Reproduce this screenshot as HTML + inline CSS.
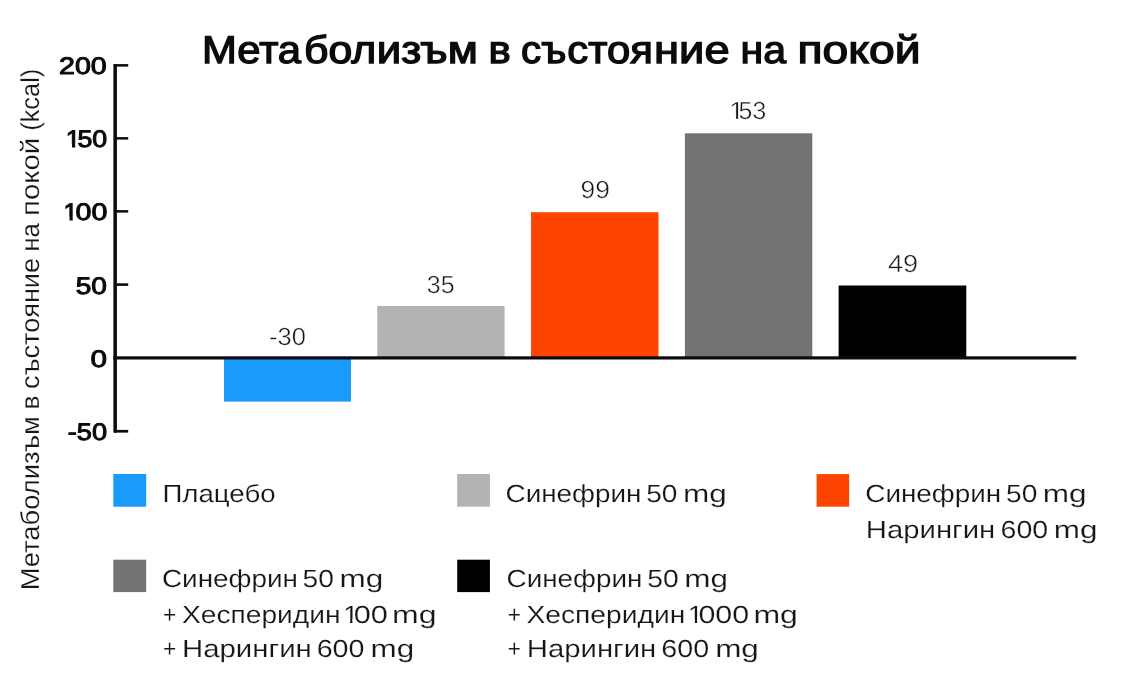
<!DOCTYPE html>
<html lang="bg">
<head>
<meta charset="utf-8">
<title>Метаболизъм в състояние на покой</title>
<style>
html,body{margin:0;padding:0;background:#fff;}
body{width:1124px;height:687px;overflow:hidden;}
svg{display:block;}
text{font-family:"Liberation Sans",sans-serif;text-rendering:geometricPrecision;}
.t{font-size:38.8px;fill:#0b0b0b;stroke:#0b0b0b;stroke-width:1.3px;}
.tk{font-size:23.9px;fill:#0b0b0b;stroke:#0b0b0b;stroke-width:1px;}
.tk1{font-size:23.9px;fill:#0b0b0b;stroke:#0b0b0b;stroke-width:1px;}
.lg1{font-size:24.7px;fill:#161616;stroke:#fff;stroke-width:.1px;}
.v{font-size:24.7px;fill:#161616;stroke:#fff;stroke-width:.45px;}
.lg{font-size:24.7px;fill:#161616;stroke:#fff;stroke-width:.18px;}
.yl{font-size:25.9px;fill:#161616;stroke:#fff;stroke-width:.18px;}
</style>
</head>
<body>
<svg width="1124" height="687" viewBox="0 0 1124 687">
<rect width="1124" height="687" fill="#fff"/>
<!-- bars -->
<rect x="224" y="358" width="127" height="43.6" fill="#1a9bfc"/>
<rect x="377.3" y="306" width="127.3" height="52" fill="#b3b3b3"/>
<rect x="531" y="212.2" width="127.5" height="146" fill="#fd4400"/>
<rect x="684.9" y="133.3" width="127.4" height="225" fill="#737373"/>
<rect x="838.6" y="285.5" width="127.7" height="73" fill="#000"/>
<!-- axes -->
<rect x="113.4" y="64.1" width="3.5" height="368.5" fill="#0b0b0b"/>
<rect x="113.4" y="356.3" width="962.9" height="3.2" fill="#0b0b0b"/>
<g fill="#0b0b0b">
<rect x="114" y="64.1" width="14.2" height="2.5"/>
<rect x="114" y="137.1" width="14.2" height="2.5"/>
<rect x="114" y="210.1" width="14.2" height="2.5"/>
<rect x="114" y="283.3" width="14.2" height="2.6"/>
<rect x="114" y="429.9" width="14.2" height="2.7"/>
</g>
<!-- legend swatches -->
<rect x="113.3" y="474" width="32.9" height="32.7" fill="#1a9bfc"/>
<rect x="457.2" y="474" width="32.7" height="32.7" fill="#b3b3b3"/>
<rect x="816.6" y="474.1" width="32.6" height="32.6" fill="#fd4400"/>
<rect x="113.3" y="559.7" width="32.9" height="32.4" fill="#737373"/>
<rect x="457.2" y="559.7" width="32.7" height="32.4" fill="#000"/>
<text class="t" x="201.94" y="63.30" textLength="99.15" lengthAdjust="spacingAndGlyphs">Мета</text><text class="t" x="304.04" y="63.30" textLength="72.31" lengthAdjust="spacingAndGlyphs">бол</text><text class="t" x="376.76" y="63.30" textLength="101.11" lengthAdjust="spacingAndGlyphs">изъм</text>
<text class="t" x="488.63" y="63.30" textLength="22.34" lengthAdjust="spacingAndGlyphs">в</text>
<text class="t" x="521.01" y="63.30" textLength="45.37" lengthAdjust="spacingAndGlyphs">съ</text><text class="t" x="567.37" y="63.30" textLength="85.53" lengthAdjust="spacingAndGlyphs">стоя</text><text class="t" x="654.08" y="63.30" textLength="75.58" lengthAdjust="spacingAndGlyphs">ние</text>
<text class="t" x="740.53" y="63.30" textLength="45.56" lengthAdjust="spacingAndGlyphs">на</text>
<text class="t" x="797.57" y="63.30" textLength="123.04" lengthAdjust="spacingAndGlyphs">покой</text>
<text class="tk" x="59.13" y="74.20" textLength="47.61" lengthAdjust="spacingAndGlyphs">200</text>
<text class="tk1" x="65.80" y="147.30" textLength="14.69" lengthAdjust="spacingAndGlyphs">1</text><rect x="66.14" y="143.81" width="5.81" height="5.29" fill="#fff"/><rect x="75.28" y="143.81" width="5.60" height="5.29" fill="#fff"/><text class="tk" x="77.41" y="147.30" textLength="29.80" lengthAdjust="spacingAndGlyphs">50</text>
<text class="tk1" x="63.63" y="220.40" textLength="14.13" lengthAdjust="spacingAndGlyphs">1</text><rect x="63.92" y="216.91" width="5.60" height="5.29" fill="#fff"/><rect x="72.76" y="216.91" width="5.40" height="5.29" fill="#fff"/><text class="tk" x="75.55" y="220.40" textLength="31.77" lengthAdjust="spacingAndGlyphs">00</text>
<text class="tk" x="75.76" y="293.50" textLength="31.21" lengthAdjust="spacingAndGlyphs">50</text>
<text class="tk" x="90.43" y="366.60" textLength="16.48" lengthAdjust="spacingAndGlyphs">0</text>
<text class="tk" x="67.79" y="439.70" textLength="39.28" lengthAdjust="spacingAndGlyphs">-50</text>
<text class="v" x="269.03" y="344.90" textLength="36.83" lengthAdjust="spacingAndGlyphs">-30</text>
<text class="v" x="426.79" y="292.70" textLength="27.78" lengthAdjust="spacingAndGlyphs">35</text>
<text class="v" x="580.64" y="197.80" textLength="29.40" lengthAdjust="spacingAndGlyphs">99</text>
<text class="v" x="729.32" y="118.60" textLength="14.71" lengthAdjust="spacingAndGlyphs">1</text><rect x="729.66" y="115.05" width="6.31" height="5.35" fill="#fff"/><rect x="738.31" y="115.05" width="6.11" height="5.35" fill="#fff"/><text class="v" x="738.60" y="118.60" textLength="27.64" lengthAdjust="spacingAndGlyphs">53</text>
<text class="v" x="887.98" y="271.80" textLength="30.20" lengthAdjust="spacingAndGlyphs">49</text>
<text class="lg" x="162.46" y="502.35" textLength="113.18" lengthAdjust="spacingAndGlyphs">Плацебо</text>
<text class="lg" x="505.52" y="502.35" textLength="135.87" lengthAdjust="spacingAndGlyphs">Синефрин</text>
<text class="lg" x="646.24" y="502.35" textLength="31.25" lengthAdjust="spacingAndGlyphs">50</text>
<text class="lg" x="683.01" y="502.35" textLength="43.78" lengthAdjust="spacingAndGlyphs">mg</text>
<text class="lg" x="865.27" y="502.35" textLength="136.01" lengthAdjust="spacingAndGlyphs">Синефрин</text>
<text class="lg" x="1006.03" y="502.35" textLength="31.32" lengthAdjust="spacingAndGlyphs">50</text>
<text class="lg" x="1042.81" y="502.35" textLength="43.83" lengthAdjust="spacingAndGlyphs">mg</text>
<text class="lg" x="865.84" y="537.55" textLength="129.49" lengthAdjust="spacingAndGlyphs">Нарингин</text>
<text class="lg" x="1000.57" y="537.55" textLength="47.59" lengthAdjust="spacingAndGlyphs">600</text>
<text class="lg" x="1053.80" y="537.55" textLength="43.72" lengthAdjust="spacingAndGlyphs">mg</text>
<text class="lg" x="161.92" y="587.35" textLength="136.09" lengthAdjust="spacingAndGlyphs">Синефрин</text>
<text class="lg" x="302.60" y="587.35" textLength="31.41" lengthAdjust="spacingAndGlyphs">50</text>
<text class="lg" x="339.52" y="587.35" textLength="43.77" lengthAdjust="spacingAndGlyphs">mg</text>
<text class="lg" x="162.97" y="622.70" textLength="13.26" lengthAdjust="spacingAndGlyphs">+</text>
<text class="lg" x="181.94" y="622.70" textLength="158.61" lengthAdjust="spacingAndGlyphs">Хесперидин</text>
<text class="lg1" x="343.15" y="622.70" textLength="15.29" lengthAdjust="spacingAndGlyphs">1</text><rect x="343.54" y="619.15" width="6.53" height="5.35" fill="#fff"/><rect x="352.50" y="619.15" width="6.31" height="5.35" fill="#fff"/><text class="lg" x="353.72" y="622.70" textLength="34.21" lengthAdjust="spacingAndGlyphs">00</text>
<text class="lg" x="392.10" y="622.70" textLength="44.49" lengthAdjust="spacingAndGlyphs">mg</text>
<text class="lg" x="162.97" y="657.40" textLength="13.26" lengthAdjust="spacingAndGlyphs">+</text>
<text class="lg" x="181.97" y="657.40" textLength="129.88" lengthAdjust="spacingAndGlyphs">Нарингин</text>
<text class="lg" x="316.66" y="657.40" textLength="47.86" lengthAdjust="spacingAndGlyphs">600</text>
<text class="lg" x="370.48" y="657.40" textLength="43.63" lengthAdjust="spacingAndGlyphs">mg</text>
<text class="lg" x="506.59" y="587.35" textLength="135.78" lengthAdjust="spacingAndGlyphs">Синефрин</text>
<text class="lg" x="647.29" y="587.35" textLength="31.48" lengthAdjust="spacingAndGlyphs">50</text>
<text class="lg" x="684.20" y="587.35" textLength="43.71" lengthAdjust="spacingAndGlyphs">mg</text>
<text class="lg" x="507.71" y="622.70" textLength="13.10" lengthAdjust="spacingAndGlyphs">+</text>
<text class="lg" x="526.47" y="622.70" textLength="158.78" lengthAdjust="spacingAndGlyphs">Хесперидин</text>
<text class="lg1" x="688.07" y="622.70" textLength="14.93" lengthAdjust="spacingAndGlyphs">1</text><rect x="688.43" y="619.15" width="6.39" height="5.35" fill="#fff"/><rect x="697.19" y="619.15" width="6.18" height="5.35" fill="#fff"/><text class="lg" x="698.42" y="622.70" textLength="50.79" lengthAdjust="spacingAndGlyphs">000</text>
<text class="lg" x="753.40" y="622.70" textLength="44.50" lengthAdjust="spacingAndGlyphs">mg</text>
<text class="lg" x="507.71" y="657.40" textLength="13.10" lengthAdjust="spacingAndGlyphs">+</text>
<text class="lg" x="526.84" y="657.40" textLength="129.49" lengthAdjust="spacingAndGlyphs">Нарингин</text>
<text class="lg" x="661.31" y="657.40" textLength="47.86" lengthAdjust="spacingAndGlyphs">600</text>
<text class="lg" x="715.15" y="657.40" textLength="43.71" lengthAdjust="spacingAndGlyphs">mg</text>
<text class="yl" transform="translate(38.60,590.36) rotate(-90)" textLength="174.25" lengthAdjust="spacingAndGlyphs">Метаболизъм</text>
<text class="yl" transform="translate(38.60,409.53) rotate(-90)" textLength="13.98" lengthAdjust="spacingAndGlyphs">в</text>
<text class="yl" transform="translate(38.60,388.91) rotate(-90)" textLength="130.96" lengthAdjust="spacingAndGlyphs">състояние</text>
<text class="yl" transform="translate(38.60,251.60) rotate(-90)" textLength="28.38" lengthAdjust="spacingAndGlyphs">на</text>
<text class="yl" transform="translate(38.60,215.96) rotate(-90)" textLength="78.17" lengthAdjust="spacingAndGlyphs">покой</text>
<text class="yl" transform="translate(38.60,130.78) rotate(-90)" textLength="62.00" lengthAdjust="spacingAndGlyphs">(kcal)</text>
</svg>
</body>
</html>
